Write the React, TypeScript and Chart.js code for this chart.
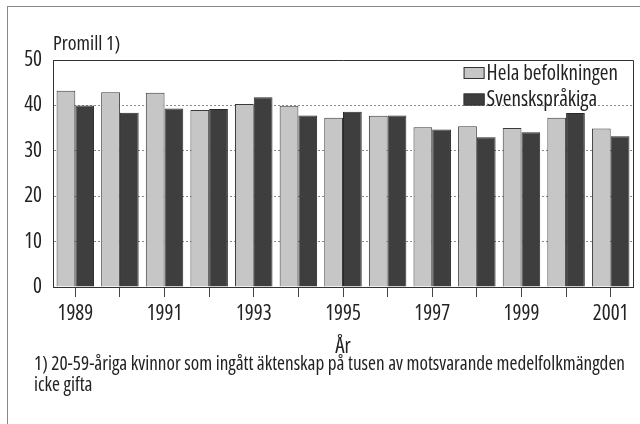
import React, { useEffect, useRef } from "react";
import { Chart, registerables } from "chart.js";

Chart.register(...registerables);

const years = ["1989", "1990", "1991", "1992", "1993", "1994", "1995", "1996", "1997", "1998", "1999", "2000", "2001"];
const xTickLabels = ["1989", "", "1991", "", "1993", "", "1995", "", "1997", "", "1999", "", "2001"];
const helaBefolkningen = [43.2, 42.9, 42.8, 39.0, 40.3, 39.9, 37.3, 37.7, 35.2, 35.4, 35.0, 37.3, 34.9];
const svensksprakiga = [40.0, 38.4, 39.3, 39.2, 41.8, 37.8, 38.6, 37.8, 34.7, 33.0, 34.1, 38.3, 33.2];
const seriesNames = ["Hela befolkningen", "Svenskspråkiga"];
const yTicks = [0, 10, 20, 30, 40, 50];
const yTitle = "Promill 1)";
const xTitle = "År";
const footnoteLines = [
  "1) 20-59-åriga kvinnor som ingått äktenskap på tusen av motsvarande medelfolkmängden",
  "icke gifta",
];

const TEXT = "#222";

// pick a condensed face if one is installed
type FontPick = { weight: string; family: string };
function pickFont(): FontPick {
  const fallback = { weight: "normal", family: "'Liberation Sans', Arial, sans-serif" };
  try {
    const c = document.createElement("canvas").getContext("2d");
    if (!c) return fallback;
    const sample = "Hela befolkningen 1989";
    c.font = "100px 'Liberation Sans'";
    const base = c.measureText(sample).width;
    const cands: FontPick[] = [
      { weight: "normal", family: "'Liberation Sans Narrow'" },
      { weight: "400 condensed", family: "'Liberation Sans Narrow'" },
      { weight: "normal", family: "'Noto Sans Condensed'" },
      { weight: "400 condensed", family: "'Noto Sans'" },
      { weight: "normal", family: "'DejaVu Sans Condensed'" },
      { weight: "400 condensed", family: "'DejaVu Sans'" },
      { weight: "400 condensed", family: "'Open Sans'" },
    ];
    for (const f of cands) {
      c.font = `${f.weight} 100px ${f.family}, 'Liberation Sans'`;
      const w = c.measureText(sample).width;
      if (w < base * 0.93) return { weight: f.weight, family: `${f.family}, 'Liberation Sans', sans-serif` };
    }
  } catch (e) {}
  return fallback;
}
const FP = pickFont();

function fitSize(text: string, target: number, max: number): number {
  const c = document.createElement("canvas").getContext("2d");
  if (!c) return max;
  c.font = `${FP.weight} 100px ${FP.family}`;
  const w = c.measureText(text).width;
  return Math.min(max, Math.round((target / w) * 100 * 10) / 10);
}

const SZ_TICK = fitSize("1989", 37, 21);
const SZ_LEGEND = fitSize("Hela befolkningen", 136, 21);
const SZ_TITLE = fitSize("Promill 1)", 71, 20);
const SZ_NOTE = fitSize(footnoteLines[0], 590, 21);

const framePlugin = {
  id: "frame",
  afterDatasetsDraw(chart: any) {
    const { ctx, chartArea } = chart;
    ctx.save();
    ctx.strokeStyle = "#333";
    ctx.lineWidth = 1;
    ctx.beginPath();
    ctx.moveTo(chartArea.left, chartArea.top + 0.5);
    ctx.lineTo(chartArea.right + 0.5, chartArea.top + 0.5);
    ctx.lineTo(chartArea.right + 0.5, chartArea.bottom);
    ctx.stroke();
    ctx.restore();
  },
};

const legendPlugin = {
  id: "innerLegend",
  afterDatasetsDraw(chart: any) {
    const { ctx, chartArea } = chart;
    const ds = chart.data.datasets;
    ctx.save();
    ctx.font = `${FP.weight} ${SZ_LEGEND}px ${FP.family}`;
    const boxW = 21;
    const boxH = 12;
    const gap = 2;
    let maxW = 0;
    ds.forEach((d: any) => {
      maxW = Math.max(maxW, ctx.measureText(d.label).width);
    });
    const left = chartArea.right - 15 - maxW - gap - boxW;
    ds.forEach((d: any, i: number) => {
      const cy = chartArea.top + 13 + i * 26.5;
      ctx.fillStyle = d.backgroundColor;
      ctx.fillRect(left, cy - boxH / 2, boxW, boxH);
      ctx.strokeStyle = "#333";
      ctx.lineWidth = 1;
      ctx.strokeRect(left + 0.5, cy - boxH / 2 + 0.5, boxW - 1, boxH - 1);
      ctx.fillStyle = TEXT;
      ctx.textBaseline = "middle";
      ctx.textAlign = "left";
      ctx.fillText(d.label, left + boxW + gap, cy + 1);
    });
    ctx.restore();
  },
};

const footnotePlugin = {
  id: "footnote",
  afterDraw(chart: any) {
    const { ctx } = chart;
    ctx.save();
    ctx.font = `${FP.weight} ${SZ_NOTE}px ${FP.family}`;
    ctx.fillStyle = TEXT;
    ctx.textBaseline = "middle";
    ctx.textAlign = "left";
    footnoteLines.forEach((line, i) => {
      ctx.fillText(line, 26, 358 + i * 21);
    });
    ctx.restore();
  },
};

export default function App() {
  const canvasRef = useRef<HTMLCanvasElement | null>(null);

  useEffect(() => {
    if (!canvasRef.current) return;
    const chart = new Chart(canvasRef.current, {
      type: "bar",
      data: {
        labels: years,
        datasets: [
          {
            label: seriesNames[0],
            data: helaBefolkningen,
            backgroundColor: "#c6c6c6",
            borderColor: "#3a3a3a",
            borderWidth: 1,
            categoryPercentage: 0.84,
            barPercentage: 1,
          },
          {
            label: seriesNames[1],
            data: svensksprakiga,
            backgroundColor: "#3e3e3e",
            borderColor: "#2a2a2a",
            borderWidth: 1,
            categoryPercentage: 0.84,
            barPercentage: 1,
          },
        ],
      },
      options: {
        responsive: false,
        animation: false,
        devicePixelRatio: 1,
        layout: { padding: { left: 0, right: 7, top: 0, bottom: 64 } },
        plugins: {
          legend: { display: false },
          tooltip: { enabled: false },
          title: {
            display: true,
            text: yTitle,
            align: "start",
            fullSize: false,
            color: TEXT,
            font: { family: FP.family, weight: FP.weight as any, size: SZ_TITLE, lineHeight: 1.2 },
            padding: { top: 25, bottom: 53 - 25 - SZ_TITLE * 1.2 },
          },
        },
        scales: {
          x: {
            type: "category",
            offset: true,
            afterFit: (s: any) => {
              s.height = 73;
            },
            grid: {
              display: true,
              offset: false,
              drawOnChartArea: false,
              drawTicks: true,
              tickLength: 10,
              tickColor: "#444",
            },
            border: { display: true, color: "#333", width: 1 },
            ticks: {
              autoSkip: false,
              maxRotation: 0,
              padding: 4,
              color: TEXT,
              font: { family: FP.family, weight: FP.weight as any, size: SZ_TICK, lineHeight: 1.2 },
              callback: (_v: any, i: number) => xTickLabels[i],
            },
            title: {
              display: true,
              text: xTitle,
              color: TEXT,
              font: { family: FP.family, weight: FP.weight as any, size: SZ_TICK, lineHeight: 1.2 },
              padding: { top: 0, bottom: 0 },
            },
          },
          y: {
            min: 0,
            max: 50,
            afterFit: (s: any) => {
              s.width = 45;
            },
            afterBuildTicks: (s: any) => {
              s.ticks = yTicks.map((v) => ({ value: v }));
            },
            grid: {
              drawTicks: false,
              color: (c: any) =>
                c.tick && (c.tick.value === 0 || c.tick.value === 50) ? "rgba(0,0,0,0)" : "#8a8a8a",
            },
            border: { display: true, color: "#333", width: 1, dash: [2, 2] },
            ticks: {
              padding: 11,
              color: TEXT,
              font: { family: FP.family, weight: FP.weight as any, size: SZ_TICK, lineHeight: 1.2 },
            },
          },
        },
      },
      plugins: [framePlugin, legendPlugin, footnotePlugin],
    });
    return () => chart.destroy();
  }, []);

  return (
    <div
      style={{
        position: "fixed",
        left: 7,
        top: 6,
        width: 632,
        height: 417,
        borderTop: "1px solid #888",
        borderLeft: "1px solid #888",
        background: "#fff",
      }}
    >
      <canvas ref={canvasRef} width={632} height={417} style={{ display: "block" }} />
    </div>
  );
}
